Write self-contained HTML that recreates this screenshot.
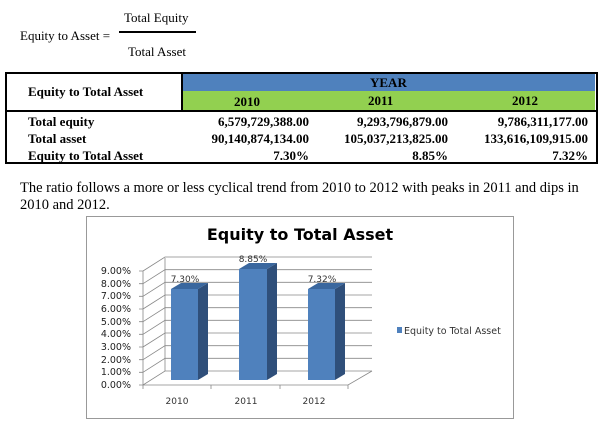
<!DOCTYPE html>
<html><head><meta charset="utf-8"><style>
body{margin:0;width:606px;height:426px;background:#fff;position:relative;overflow:hidden;font-family:"Liberation Serif",serif;color:#000}
.a{position:absolute;white-space:nowrap}
.t{font-size:13px;font-weight:bold}
.r{text-align:right}
</style></head><body>
<div class="a" style="left:124px;top:10px;font-size:13px">Total Equity</div>
<div class="a" style="left:20px;top:28px;font-size:13px">Equity to Asset =</div>
<div class="a" style="left:119px;top:31px;width:77px;height:2px;background:#000"></div>
<div class="a" style="left:128px;top:44px;font-size:13px">Total Asset</div>

<div class="a" style="left:5px;top:72px;width:589px;height:88px;border:2px solid #000"></div>
<div class="a" style="left:182px;top:74px;width:413px;height:17px;background:#4f81bd"></div>
<div class="a" style="left:182px;top:91px;width:413px;height:19px;background:#92d050"></div>
<div class="a" style="left:181px;top:74px;width:2px;height:37px;background:#000"></div>
<div class="a" style="left:5px;top:110px;width:592px;height:2px;background:#000"></div>
<div class="a t" style="left:28px;top:84px">Equity to Total Asset</div>
<div class="a t" style="left:370px;top:75px">YEAR</div>
<div class="a t" style="left:234px;top:94px">2010</div>
<div class="a t" style="left:368px;top:93px">2011</div>
<div class="a t" style="left:512px;top:93px">2012</div>
<div class="a t" style="left:28px;top:113px;line-height:17px">Total equity<br>Total asset<br>Equity to Total Asset</div>
<div class="a t r" style="left:160px;width:149px;top:113px;line-height:17px">6,579,729,388.00<br>90,140,874,134.00<br>7.30%</div>
<div class="a t r" style="left:300px;width:148px;top:113px;line-height:17px">9,293,796,879.00<br>105,037,213,825.00<br>8.85%</div>
<div class="a t r" style="left:440px;width:148px;top:113px;line-height:17px">9,786,311,177.00<br>133,616,109,915.00<br>7.32%</div>

<div class="a" style="left:20px;top:180px;font-size:14.5px;line-height:17px">The ratio follows a more or less cyclical trend from 2010 to 2012 with peaks in 2011 and dips in<br>2010 and 2012.</div>

<svg class="a" style="left:0;top:0" width="606" height="426" font-family="DejaVu Sans, sans-serif">
<rect x="86.5" y="216.5" width="427" height="202" fill="#fff" stroke="#999"/>
<text x="300" y="240" font-size="16" font-weight="bold" text-anchor="middle">Equity to Total Asset</text>
<g stroke="#888" stroke-width="0.8" fill="none">
<path d="M165,258V371"/>
<path d="M143,271V385H348L372,371"/>
<path d="M143,385L165,371H372"/>
<path d="M143,372.3L165,358.3H372M143,359.7L165,345.7H372M143,347L165,333H372M143,334.3L165,320.3H372M143,321.7L165,307.7H372M143,309L165,295H372M143,296.3L165,282.3H372M143,283.7L165,269.7H372M143,271L165,257H372"/>
<path d="M139,385H143M139,372.3H143M139,359.7H143M139,347H143M139,334.3H143M139,321.7H143M139,309H143M139,296.3H143M139,283.7H143M139,271H143"/>
<path d="M143,385V389M211,385V389M280,385V389M348,385V389"/>
</g>
<g font-size="9.5" fill="#222" text-anchor="end">
<text x="131" y="274">9.00%</text><text x="131" y="287">8.00%</text><text x="131" y="299">7.00%</text><text x="131" y="312">6.00%</text><text x="131" y="325">5.00%</text><text x="131" y="337">4.00%</text><text x="131" y="350">3.00%</text><text x="131" y="363">2.00%</text><text x="131" y="375">1.00%</text><text x="131" y="388">0.00%</text>
</g>
<g>
<polygon points="198,289 208,283 208,374 198,380" fill="#2f4f7a"/><polygon points="171,289 181,283 208,283 198,289" fill="#3a679e"/><rect x="171" y="289" width="27" height="91" fill="#4f81bd"/>
<polygon points="267,269 277,263 277,374 267,380" fill="#2f4f7a"/><polygon points="239,269 249,263 277,263 267,269" fill="#3a679e"/><rect x="239" y="269" width="28" height="111" fill="#4f81bd"/>
<polygon points="335,289 345,283 345,374 335,380" fill="#2f4f7a"/><polygon points="308,289 318,283 345,283 335,289" fill="#3a679e"/><rect x="308" y="289" width="27" height="91" fill="#4f81bd"/>
</g>
<g font-size="9" fill="#333" text-anchor="middle">
<text x="185" y="282">7.30%</text><text x="253" y="262">8.85%</text><text x="322" y="282">7.32%</text>
<text x="177" y="404">2010</text><text x="246" y="404">2011</text><text x="314" y="404">2012</text>
</g>
<rect x="397" y="327" width="5" height="6" fill="#4f81bd"/>
<text x="404" y="334" font-size="9.5" fill="#333">Equity to Total Asset</text>
</svg>
</body></html>
